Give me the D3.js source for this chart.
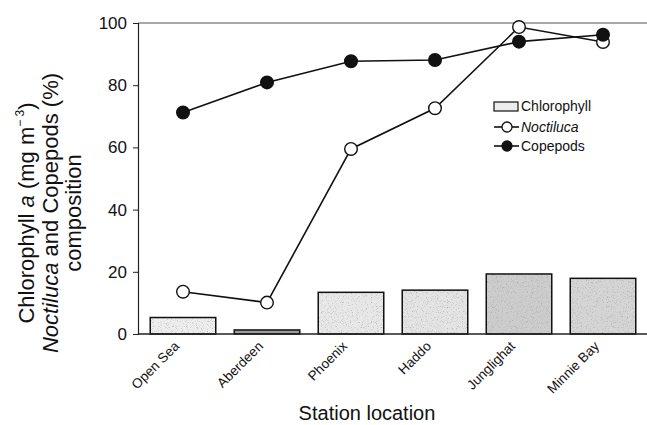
<!DOCTYPE html>
<html>
<head>
<meta charset="utf-8">
<script src="https://cdn.jsdelivr.net/npm/d3@7"></script>
<style>
  body { margin: 0; background: #fff; }
  text { font-family: "Liberation Sans", Arial, sans-serif; fill: #111; }
</style>
</head>
<body>
<div class="board"></div>
<script>
var stations = ['Open Sea', 'Aberdeen', 'Phoenix', 'Haddo', 'Junglighat', 'Minnie Bay'];
var chlorophyll = [5.3, 1.3, 13.4, 14.1, 19.3, 17.9];
var noctiluca = [13.6, 10.1, 59.5, 72.6, 98.7, 93.9];
var copepods = [71.2, 80.9, 87.7, 88.1, 94.0, 96.2];
var yTicks = [0, 20, 40, 60, 80, 100];

// stipple shade for each bar (look of the scanned figure)
var barShades = ['#eeeeee', '#9a9a9a', '#e8e8e8', '#e4e4e4', '#cdcdcd', '#d5d5d5'];

var width = 647, height = 425;
var plotLeft = 138, plotRight = 647, plotTop = 23, plotBottom = 334;

var svg = d3.select('.board').append('svg')
            .attr('width', width)
            .attr('height', height);

var x = d3.scaleBand().domain(stations).range([141, 645]).paddingInner(0.22).paddingOuter(0.11);
var y = d3.scaleLinear().domain([0, 100]).range([plotBottom, plotTop]);

// grainy texture for the stippled bars
var defs = svg.append('defs');
var filter = defs.append('filter').attr('id', 'grain');
filter.append('feTurbulence').attr('type', 'fractalNoise').attr('baseFrequency', 1.2).attr('numOctaves', 1).attr('seed', 3).attr('result', 'n');
filter.append('feColorMatrix').attr('in', 'n').attr('type', 'matrix')
      .attr('values', '0 0 0 0 0.35  0 0 0 0 0.35  0 0 0 0 0.35  0 0 0 -3 1.35').attr('result', 'dots');
filter.append('feComposite').attr('in', 'dots').attr('in2', 'SourceGraphic').attr('operator', 'in').attr('result', 'd2');
filter.append('feMerge').selectAll('feMergeNode').data(['SourceGraphic', 'd2']).enter()
      .append('feMergeNode').attr('in', function(d) { return d; });

// bars
var bars = svg.selectAll('g.bar')
   .data(chlorophyll)
   .enter()
   .append('g')
   .attr('class', 'bar');
bars.append('rect')
   .attr('x', function(d, i) { return x(stations[i]); })
   .attr('y', function(d) { return y(d); })
   .attr('width', x.bandwidth())
   .attr('height', function(d) { return plotBottom - y(d); })
   .attr('fill', function(d, i) { return barShades[i]; })
   .attr('filter', 'url(#grain)');
bars.append('rect')
   .attr('x', function(d, i) { return x(stations[i]); })
   .attr('y', function(d) { return y(d); })
   .attr('width', x.bandwidth())
   .attr('height', function(d) { return plotBottom - y(d); })
   .attr('fill', 'none')
   .attr('stroke', '#111')
   .attr('stroke-width', 1.5);

// frame: top line and x axis line
svg.append('line').attr('x1', plotLeft).attr('x2', plotRight).attr('y1', plotTop).attr('y2', plotTop)
   .attr('stroke', '#555').attr('stroke-width', 1);
svg.append('line').attr('x1', plotLeft).attr('x2', plotRight).attr('y1', plotBottom).attr('y2', plotBottom)
   .attr('stroke', '#222').attr('stroke-width', 1.3);

// y axis
var yAxis = svg.append('g')
   .attr('transform', 'translate(' + plotLeft + ',0)')
   .call(d3.axisLeft(y).tickValues(yTicks).tickSize(5).tickPadding(6));
yAxis.select('.domain').attr('stroke', '#222').attr('stroke-width', 1.2);
yAxis.selectAll('.tick line').attr('stroke', '#222');
yAxis.selectAll('text').style('font-size', '17px').attr('fill', '#111')
     .style('font-family', '"Liberation Sans", Arial, sans-serif');

// x tick labels
svg.selectAll('text.xlab')
   .data(stations)
   .enter()
   .append('text')
   .attr('class', 'xlab')
   .attr('text-anchor', 'end')
   .attr('transform', function(d) {
     return 'translate(' + (x(d) + x.bandwidth() / 2 - 3) + ',' + (plotBottom + 13) + ') rotate(-45)';
   })
   .style('font-size', '13.5px')
   .text(function(d) { return d; });

// lines
var lineGen = d3.line()
   .x(function(d, i) { return x(stations[i]) + x.bandwidth() / 2; })
   .y(function(d) { return y(d); });

[noctiluca, copepods].forEach(function(series, k) {
  svg.append('path')
     .datum(series)
     .attr('d', lineGen)
     .attr('fill', 'none')
     .attr('stroke', '#111')
     .attr('stroke-width', 1.6);
  svg.selectAll('circle.s' + k)
     .data(series)
     .enter()
     .append('circle')
     .attr('class', 's' + k)
     .attr('cx', function(d, i) { return x(stations[i]) + x.bandwidth() / 2; })
     .attr('cy', function(d) { return y(d); })
     .attr('r', 6.3)
     .attr('fill', k === 0 ? '#fff' : '#111')
     .attr('stroke', '#111')
     .attr('stroke-width', 1.4);
});

// legend
var lg = svg.append('g').attr('transform', 'translate(494,0)');
lg.append('rect').attr('x', 0).attr('y', 102).attr('width', 24).attr('height', 9)
  .attr('fill', '#ececec').attr('stroke', '#111').attr('stroke-width', 1.2);
lg.append('text').attr('x', 27).attr('y', 111).style('font-size', '14px').text('Chlorophyll');
[[127, '#fff', 'Noctiluca', 'italic'], [146, '#111', 'Copepods', 'normal']].forEach(function(r) {
  lg.append('line').attr('x1', 0).attr('x2', 25).attr('y1', r[0]).attr('y2', r[0])
    .attr('stroke', '#111').attr('stroke-width', 1.6);
  lg.append('circle').attr('cx', 13).attr('cy', r[0]).attr('r', 5)
    .attr('fill', r[1]).attr('stroke', '#111').attr('stroke-width', 1.3);
  lg.append('text').attr('x', 27).attr('y', r[0] + 5).style('font-size', '14px')
    .style('font-style', r[3]).text(r[2]);
});

// y title
var yt = svg.append('text')
   .attr('transform', 'translate(0,213) rotate(-90)')
   .attr('text-anchor', 'middle')
   .style('font-size', '22px');
var l1 = yt.append('tspan').attr('x', 0).attr('y', 34);
l1.append('tspan').text('Chlorophyll ');
l1.append('tspan').style('font-style', 'italic').text('a');
l1.append('tspan').text(' (mg m');
l1.append('tspan').attr('dy', -10).style('font-size', '12px').text('\u2212 3');
l1.append('tspan').attr('dy', 10).text(')');
var l2 = yt.append('tspan').attr('x', 0).attr('y', 58);
l2.append('tspan').style('font-style', 'italic').text('Noctiluca');
l2.append('tspan').text(' and Copepods (%)');
yt.append('tspan').attr('x', 0).attr('y', 81).text('composition');

// x title
svg.append('text')
   .attr('x', 367)
   .attr('y', 420)
   .attr('text-anchor', 'middle')
   .style('font-size', '20px')
   .text('Station location');
</script>
</body>
</html>
